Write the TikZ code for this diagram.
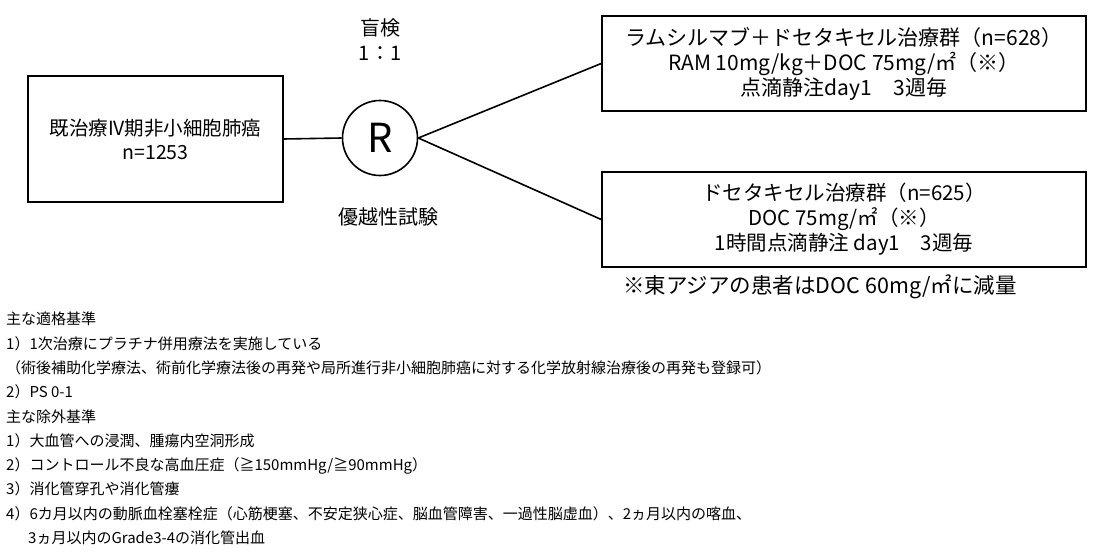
\documentclass[tikz,border=0pt]{standalone}
\usepackage{fontspec}
\setmainfont{Noto Sans CJK JP}
\begin{document}
\begin{tikzpicture}[x=1pt,y=-1pt,
  box/.style={draw, line width=1.6pt, align=center, inner sep=0pt},
  lbl/.style={font=\fontsize{20}{25}\selectfont, align=center, inner sep=0pt},
  conn/.style={line width=1.6pt}]
\useasboundingbox (0,0) rectangle (1100,559);
\node[box, minimum width=255, minimum height=126, font=\fontsize{19.5}{24}\selectfont] (pop) at (155.5,139) {既治療IV期非小細胞肺癌\\n=1253};
\node[draw, circle, line width=1.6pt, minimum size=75, inner sep=0pt, font=\fontsize{40}{40}\selectfont] (R) at (380,138) {R};
\node[box, minimum width=484, minimum height=95, font=\fontsize{21}{25}\selectfont] (arm1) at (844,63.5) {ラムシルマブ＋ドセタキセル治療群（n=628）\\RAM 10mg/kg＋DOC 75mg/㎡（※）\\点滴静注day1　3週毎};
\node[box, minimum width=484, minimum height=95, font=\fontsize{20.5}{25}\selectfont] (arm2) at (844,219.5) {ドセタキセル治療群（n=625）\\DOC 75mg/㎡（※）\\1時間点滴静注 day1　3週毎};
\draw[conn] (pop.east) -- (R.west);
\draw[conn] (R.east) -- (arm1.west);
\draw[conn] (R.east) -- (arm2.west);
\node[lbl] (blind) at (380,28) {盲検};
\node[lbl] (ratio) at (380,53) {1：1};
\node[lbl] (sup) at (388,217) {優越性試験};
\node[lbl, font=\fontsize{21.5}{25}\selectfont] (note) at (820,287) {※東アジアの患者はDOC 60mg/㎡に減量};
\node[anchor=north west, align=left, inner sep=0pt, font=\fontsize{15}{24.3}\selectfont] (crit) at (6,312) {%
主な適格基準\\
1）1次治療にプラチナ併用療法を実施している\\
（術後補助化学療法、術前化学療法後の再発や局所進行非小細胞肺癌に対する化学放射線治療後の再発も登録可）\\
2）PS 0-1\\
主な除外基準\\
1）大血管への浸潤、腫瘍内空洞形成\\
2）コントロール不良な高血圧症（≧150mmHg/≧90mmHg）\\
3）消化管穿孔や消化管瘻\\
4）6カ月以内の動脈血栓塞栓症（心筋梗塞、不安定狭心症、脳血管障害、一過性脳虚血）、2ヵ月以内の喀血、\\
\hspace*{22pt}3ヵ月以内のGrade3-4の消化管出血};
\end{tikzpicture}
\end{document}
